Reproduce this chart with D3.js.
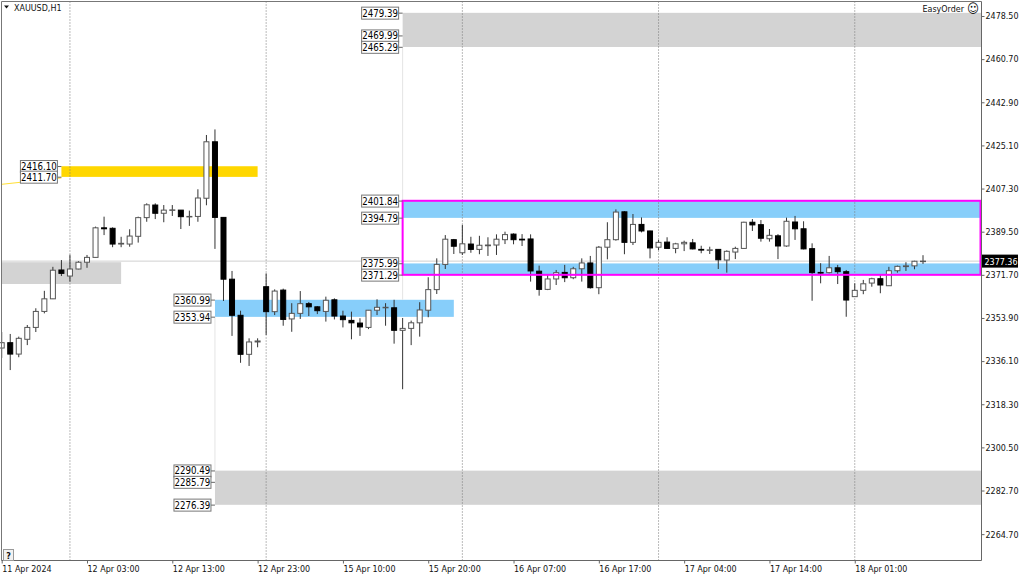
<!DOCTYPE html>
<html>
<head>
<meta charset="utf-8">
<script src="https://cdn.jsdelivr.net/npm/d3@7"></script>
<style>
html, body { margin: 0; padding: 0; background: #fff; }
svg { display: block; }
text { font-family: "DejaVu Sans Condensed", "DejaVu Sans", sans-serif; font-stretch: condensed; font-size: 8.9px; fill: #111; }
text.tagtext { font-size: 9.6px; fill: #000; }
</style>
</head>
<body>
<script>
var symbol = "XAUUSD,H1";
var lastPrice = 2377.36;

var opens = [2341.5,2343.7,2339.0,2345.1,2350.0,2356.6,2361.8,2373.7,2371.2,2374.1,2376.9,2378.9,2391.1,2390.9,2384.4,2384.4,2387.6,2395.3,2400.5,2397.1,2398.4,2398.4,2395.7,2395.8,2403.3,2426.6,2395.4,2369.9,2355.0,2338.9,2344.0,2366.8,2356.5,2365.4,2353.5,2355.8,2359.8,2358.5,2356.6,2361.4,2354.7,2352.9,2351.8,2350.0,2357.1,2358.1,2358.1,2348.8,2349.6,2351.9,2357.1,2365.6,2376.0,2386.2,2380.8,2384.4,2382.2,2383.7,2384.0,2386.2,2388.5,2386.4,2386.5,2373.2,2365.7,2370.0,2372.7,2370.5,2374.2,2376.6,2366.4,2383.1,2386.2,2397.7,2385.1,2392.5,2389.8,2383.1,2385.2,2382.6,2384.5,2384.9,2382.2,2381.8,2382.2,2377.8,2381.1,2382.6,2393.4,2392.4,2386.6,2387.8,2383.6,2393.5,2390.7,2382.5,2372.7,2372.6,2374.6,2373.0,2362.7,2365.3,2368.3,2370.1,2367.2,2373.4,2375.1,2375.4,2377.3];
var highs = [2348.1,2347.3,2346.2,2351.0,2357.9,2365.1,2375.0,2377.8,2380.0,2377.3,2379.9,2391.6,2395.7,2391.3,2387.4,2390.5,2395.7,2401.2,2401.2,2400.5,2400.5,2398.4,2398.2,2407.0,2429.4,2431.7,2395.4,2373.3,2356.9,2345.5,2345.5,2372.3,2365.7,2366.0,2360.0,2365.0,2360.5,2358.8,2362.7,2362.0,2356.9,2356.5,2353.8,2357.2,2361.6,2360.0,2361.4,2353.9,2352.8,2360.4,2370.7,2378.5,2388.1,2386.5,2392.3,2387.4,2387.8,2387.2,2388.4,2389.5,2388.8,2388.5,2388.4,2375.5,2371.6,2373.7,2375.8,2375.0,2378.5,2379.5,2383.6,2393.4,2398.7,2398.0,2396.8,2395.4,2389.9,2386.1,2387.2,2384.9,2385.8,2386.5,2383.7,2383.3,2382.2,2381.8,2383.3,2393.6,2394.7,2394.3,2390.6,2388.5,2395.3,2396.0,2393.8,2384.7,2376.5,2379.5,2375.8,2373.7,2368.2,2369.6,2370.5,2371.6,2375.0,2375.5,2376.9,2377.5,2379.8];
var lows = [2337.4,2332.4,2337.7,2342.7,2348.1,2355.8,2361.7,2371.2,2368.9,2374.0,2374.6,2378.9,2388.1,2383.1,2383.1,2383.3,2385.0,2393.6,2394.7,2393.4,2396.0,2390.6,2391.9,2393.6,2400.4,2382.4,2360.9,2346.5,2335.4,2334.1,2341.8,2346.9,2355.1,2350.7,2348.2,2353.5,2354.7,2355.5,2352.4,2353.3,2350.0,2345.1,2346.5,2349.3,2355.1,2350.7,2343.3,2324.5,2342.7,2346.2,2354.2,2363.8,2374.1,2380.3,2379.9,2380.8,2380.2,2379.5,2379.9,2384.4,2384.3,2383.6,2368.9,2363.1,2365.4,2367.5,2368.7,2369.9,2368.9,2366.0,2363.7,2378.1,2385.8,2380.2,2384.0,2389.2,2378.5,2381.9,2382.4,2380.6,2381.5,2382.2,2380.6,2380.3,2374.1,2372.6,2378.2,2382.4,2389.8,2385.4,2385.4,2378.2,2383.3,2386.1,2382.2,2361.0,2368.2,2372.3,2367.9,2354.4,2362.7,2363.7,2366.8,2364.1,2367.1,2372.6,2373.3,2374.0,2376.2];
var closes = [2343.7,2339.0,2345.5,2350.0,2356.6,2361.8,2373.6,2372.3,2374.1,2376.9,2378.9,2391.1,2390.7,2384.4,2384.7,2387.7,2395.3,2400.6,2397.1,2398.4,2398.5,2395.7,2395.8,2403.4,2426.6,2395.4,2369.9,2355.0,2338.9,2344.0,2344.4,2356.5,2365.0,2353.3,2355.8,2359.8,2358.5,2356.9,2361.2,2354.7,2353.2,2351.9,2350.2,2357.1,2358.3,2358.3,2348.8,2349.6,2351.9,2357.2,2365.6,2376.0,2386.4,2383.5,2384.5,2382.2,2383.9,2384.0,2386.4,2388.3,2386.2,2386.1,2373.3,2365.7,2370.0,2372.6,2370.5,2374.2,2376.6,2366.4,2383.1,2386.2,2397.6,2385.1,2392.5,2389.8,2382.8,2385.1,2382.6,2384.5,2385.1,2382.4,2381.9,2382.0,2377.9,2381.4,2382.6,2393.4,2392.3,2386.8,2388.0,2383.6,2393.8,2390.7,2382.4,2372.6,2372.4,2374.6,2373.0,2361.3,2365.3,2368.0,2370.1,2367.5,2373.4,2375.2,2375.4,2377.3,2377.36];

var priceLabels = ["2478.50","2460.70","2442.90","2425.10","2407.30","2389.50","2371.70","2353.90","2336.10","2318.30","2300.50","2282.70","2264.70"];
var timeLabels = ["11 Apr 2024","12 Apr 03:00","12 Apr 13:00","12 Apr 23:00","15 Apr 10:00","15 Apr 20:00","16 Apr 07:00","16 Apr 17:00","17 Apr 04:00","17 Apr 14:00","18 Apr 01:00"];
var timeBars = [0,10,20,30,40,50,60,70,80,90,100];
var separatorBars = [8,31,54,77,100];

// zones: first bar, last bar, upper price, lower price, colour name
var zoneStart = [47,7,0,25,47,47,25];
var zoneEnd = [null,30,14,53,null,null,null];
var zoneHigh = [2479.39,2416.10,2376.5,2360.99,2401.84,2375.99,2290.49];
var zoneLow = [2465.29,2411.70,2367.5,2353.94,2394.79,2371.29,2276.39];
var zoneColor = ["#d3d3d3","#ffd700","#d3d3d3","#87cefa","#87cefa","#87cefa","#d3d3d3"];

var tagPrice = [2479.39,2469.99,2465.29,2416.10,2411.70,2360.99,2353.94,2401.84,2394.79,2375.99,2371.29,2290.49,2285.79,2276.39];
var tagBar = [47,47,47,7,7,25,25,47,47,47,47,25,25,25];

var width = 1024, height = 576;
var plotLeft = 1.5, plotTop = 1.5, plotRight = 981.5, plotBottom = 560.5;
var objShift = -1; // objects sit a pixel above the candle grid in the terminal

var svg = d3.select("body").append("svg").attr("width",width).attr("height",height);

var x = d3.scaleLinear().domain([0,108]).range([1.7,923]);
var y = d3.scaleLinear().domain([2478.5,2264.76]).range([16,534]);

// zones
svg.selectAll("rect.zone").data(zoneStart).enter().append("rect")
    .attr("class","zone")
    .attr("x",function(d,i) { return i==2 ? plotLeft : x(d); })
    .attr("width",function(d,i) {
        var right = zoneEnd[i]===null ? plotRight : x(zoneEnd[i]);
        return right - (i==2 ? plotLeft : x(d));
    })
    .attr("y",function(d,i) { return y(zoneHigh[i]) + objShift; })
    .attr("height",function(d,i) { return y(zoneLow[i]) - y(zoneHigh[i]); })
    .attr("fill",function(d,i) { return zoneColor[i]; });

// faint joins between zones
var joinBar = [25,47,47];
var joinHigh = [2353.94,2465.29,2371.29];
var joinLow = [2290.49,2401.84,2360.99];
svg.selectAll("line.join").data(joinBar).enter().append("line")
    .attr("class","join")
    .attr("x1",function(d) { return x(d); })
    .attr("x2",function(d) { return x(d); })
    .attr("y1",function(d,i) { return y(joinHigh[i]) + objShift; })
    .attr("y2",function(d,i) { return y(joinLow[i]) + objShift; })
    .attr("stroke","#e4e4e4");

// last price line
svg.append("line")
    .attr("x1",plotLeft).attr("x2",plotRight)
    .attr("y1",y(lastPrice)).attr("y2",y(lastPrice))
    .attr("stroke","#d0d0d0");

// yellow trend stub behind the tags
svg.append("line")
    .attr("x1",x(0)).attr("x2",x(7))
    .attr("y1",y(2409.05)).attr("y2",y(2411.7))
    .attr("stroke","#ffd700").attr("stroke-width",0.8);

// day separators
svg.selectAll("line.sep").data(separatorBars).enter().append("line")
    .attr("class","sep")
    .attr("x1",function(d) { return x(d); })
    .attr("x2",function(d) { return x(d); })
    .attr("y1",plotTop).attr("y2",plotBottom)
    .attr("stroke","#777").attr("stroke-dasharray","1,2");

// candles
var bars = opens.map(function(d,i) { return i; });
svg.selectAll("line.wick").data(bars).enter().append("line")
    .attr("class","wick")
    .attr("x1",function(d) { return x(d); })
    .attr("x2",function(d) { return x(d); })
    .attr("y1",function(d) { return y(highs[d]); })
    .attr("y2",function(d) { return y(lows[d]); })
    .attr("stroke","#333");

svg.selectAll("rect.body").data(bars).enter().append("rect")
    .attr("class","body")
    .attr("x",function(d) { return x(d) - 2.5; })
    .attr("width",5)
    .attr("y",function(d) { return y(Math.max(opens[d],closes[d])); })
    .attr("height",function(d) { return Math.max(0.5, Math.abs(y(opens[d]) - y(closes[d]))); })
    .attr("fill",function(d) { return closes[d] < opens[d] ? "#000" : "#fff"; })
    .attr("stroke",function(d) { return closes[d] < opens[d] ? "#000" : "#555"; });

// magenta box
svg.append("rect")
    .attr("x",x(47))
    .attr("y",y(2401.84) + objShift)
    .attr("width",plotRight - 1 - x(47))
    .attr("height",y(2371.29) - y(2401.84))
    .attr("fill","none")
    .attr("stroke","#ff00ff")
    .attr("stroke-width",2);

// price tags
var tagW = 37, tagH = 12, tagGap = 4;
var tags = svg.selectAll("g.tag").data(tagPrice).enter().append("g").attr("class","tag")
    .attr("transform",function(d,i) { return "translate(" + (x(tagBar[i]) - tagGap - tagW) + "," + (y(d) - 0.7) + ")"; });
tags.append("line")
    .attr("x1",tagW).attr("x2",tagW + tagGap).attr("y1",0).attr("y2",0)
    .attr("stroke","#666");
tags.append("rect")
    .attr("x",0).attr("y",-tagH/2).attr("width",tagW).attr("height",tagH)
    .attr("fill","#fff").attr("stroke","#777");
tags.append("text")
    .attr("class","tagtext")
    .attr("x",tagW/2).attr("y",3.5).attr("text-anchor","middle")
    .text(function(d) { return d.toFixed(2); });

// frame
svg.append("path")
    .attr("d","M"+plotLeft+","+plotBottom+"V"+plotTop+"H"+plotRight)
    .attr("fill","none").attr("stroke","#777");

// axes
var yAxis = d3.axisRight(y)
    .tickValues(priceLabels.map(Number))
    .tickFormat(function(d) { return d.toFixed(2); })
    .tickSize(3).tickPadding(1);
var gy = svg.append("g").attr("transform","translate(" + plotRight + ",0)").call(yAxis);
gy.select(".domain").attr("stroke","#666").attr("d","M0,"+plotTop+"V"+plotBottom);
gy.selectAll(".tick line").attr("stroke","#666");
gy.selectAll("text").attr("font-family",null).attr("font-size",null);
gy.attr("font-family",null).attr("font-size",null);

var xAxis = d3.axisBottom(x)
    .tickValues(timeBars)
    .tickFormat(function(d,i) { return timeLabels[i]; })
    .tickSize(3).tickPadding(2);
var gx = svg.append("g").attr("transform","translate(0," + plotBottom + ")").call(xAxis);
gx.select(".domain").attr("stroke","#666").attr("d","M"+plotLeft+",0H"+plotRight);
gx.selectAll(".tick line").attr("stroke","#666");
gx.selectAll("text").attr("text-anchor","start").attr("font-family",null).attr("font-size",null);
gx.attr("font-family",null).attr("font-size",null);

// last price tag
svg.append("rect")
    .attr("x",plotRight + 0.5).attr("y",y(lastPrice) - 6.5)
    .attr("width",36).attr("height",13)
    .attr("fill","#000");
svg.append("text")
    .attr("x",plotRight + 3).attr("y",y(lastPrice) + 3.5)
    .style("fill","#fff")
    .text(lastPrice.toFixed(2));

// header bits
svg.append("path").attr("d","M4,5.5H9L6.5,8.5Z").attr("fill","#111");
svg.append("text").attr("x",14).attr("y",11).text(symbol);
svg.append("text").attr("x",964).attr("y",12).attr("text-anchor","end").text("EasyOrder");
svg.append("text").attr("x",973).attr("y",13).attr("text-anchor","middle")
    .style("font-family","DejaVu Sans").style("font-size","13px").text("\u263A");

// help button
svg.append("rect")
    .attr("x",3.5).attr("y",549.5).attr("width",10).attr("height",11)
    .attr("fill","#f2f2f2").attr("stroke","#999");
svg.append("text").attr("x",8.5).attr("y",558.5).attr("text-anchor","middle")
    .style("font-weight","bold").text("?");
</script>
</body>
</html>
